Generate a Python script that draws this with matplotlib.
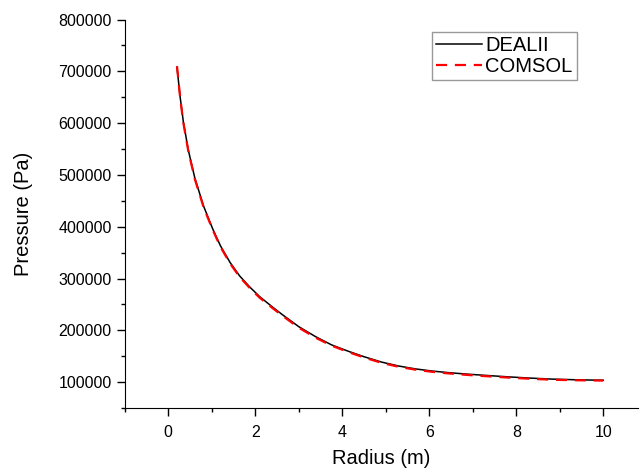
import matplotlib.pyplot as plt
from matplotlib.ticker import MultipleLocator

plt.rcParams['font.family'] = ['Liberation Sans', 'DejaVu Sans']

# valores
radio = [0.2, 0.27, 0.345, 0.46, 0.61, 0.81, 1.02, 1.2, 1.42, 1.64, 1.88,
         2.1, 2.38, 2.61, 3.0, 3.38, 3.75, 4.14, 4.5, 4.91, 5.3, 5.68, 6.05,
         6.41, 6.85, 7.29, 7.8, 8.3, 8.82, 9.4, 10.0]
presion_dealii = [708000, 652000, 603000, 548000, 494000, 440000, 396000, 363000,
                  331000, 305000, 283000, 265000, 246000, 231000, 207000, 188000,
                  172000, 159500, 149000, 138500, 131000, 125500, 121500,
                  118500, 115500, 113000, 110200, 107800, 105800, 104400,
                  103600]
presion_comsol = [710000, 651000, 601000, 546000, 492000, 438000, 394000, 361000,
                  329000, 303000, 281000, 263000, 244000, 229000, 205000, 186000,
                  170500, 158000, 147500, 137000, 129500, 124000, 120000,
                  117000, 114000, 111500, 108800, 106500, 104600, 103500,
                  102900]

fig = plt.figure(figsize=(6.4, 4.72), dpi=100)
ax = fig.add_axes([0.195, 0.1356, 0.802, 0.823])

ax.plot(radio, presion_dealii, color="black", lw=1.1, label="DEALII")
ax.plot(radio, presion_comsol, color="red", lw=1.6, ls=(0, (5, 3.5)), label="COMSOL")

ax.set_xlim(-1, 10.8)
ax.set_ylim(50000, 800000)
ax.xaxis.set_major_locator(MultipleLocator(2))
ax.xaxis.set_minor_locator(MultipleLocator(1))
ax.yaxis.set_minor_locator(MultipleLocator(50000))
ax.set_yticks([100000, 200000, 300000, 400000, 500000, 600000, 700000, 800000])

ax.spines["top"].set_visible(False)
ax.spines["right"].set_visible(False)
ax.tick_params(which="major", direction="out", length=6, width=1, labelsize=11.5)
ax.tick_params(axis="x", which="major", pad=6)
ax.tick_params(which="minor", direction="out", length=3, width=1)

ax.set_xlabel("Radius (m)", fontsize=14.5, labelpad=7)
ax.set_ylabel("Pressure (Pa)", fontsize=14.5, labelpad=18)

ax.legend(loc="upper left", bbox_to_anchor=(0.675, 0.932),
          bbox_transform=fig.transFigure, fontsize=14.5, frameon=True,
          fancybox=False, edgecolor="gray", handlelength=2.3,
          handletextpad=0.15, borderpad=0.2, labelspacing=0.1, borderaxespad=0)

plt.savefig("out.png")
plt.close()
